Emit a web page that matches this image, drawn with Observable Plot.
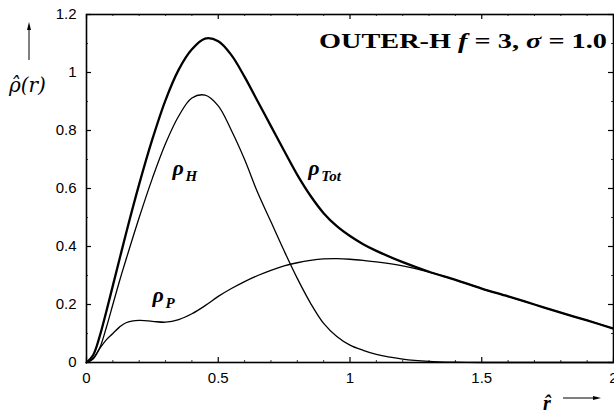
<!DOCTYPE html>
<html>
<head>
<meta charset="utf-8">
<script src="https://cdn.jsdelivr.net/npm/d3@7"></script>
<script src="https://cdn.jsdelivr.net/npm/@observablehq/plot@0.6"></script>
<style>
  body { margin: 0; background: #fff; }
  #chart svg { display: block; overflow: hidden; }
</style>
</head>
<body>
<div id="chart"></div>
<script>
// Radial density profiles, OUTER-H model (f = 3, sigma = 1.0)
const r      = [0, 0.025, 0.05, 0.075, 0.1, 0.125, 0.15, 0.2, 0.25, 0.3, 0.35, 0.4, 0.45, 0.5, 0.55, 0.6, 0.65, 0.7, 0.75, 0.8, 0.85, 0.9, 0.95, 1.0, 1.05, 1.1, 1.2, 1.3, 1.4, 1.5, 1.6, 1.7, 1.8, 1.9, 2.0];
const rhoTot = [0, 0.025, 0.09, 0.175, 0.265, 0.355, 0.445, 0.615, 0.77, 0.905, 1.01, 1.08, 1.117, 1.108, 1.06, 0.985, 0.90, 0.815, 0.73, 0.647, 0.575, 0.515, 0.47, 0.436, 0.408, 0.385, 0.346, 0.313, 0.285, 0.255, 0.228, 0.20, 0.172, 0.145, 0.117];
const rhoH   = [0, 0.012, 0.05, 0.12, 0.20, 0.28, 0.355, 0.50, 0.635, 0.755, 0.85, 0.912, 0.922, 0.885, 0.80, 0.70, 0.585, 0.485, 0.385, 0.29, 0.205, 0.135, 0.09, 0.06, 0.042, 0.028, 0.012, 0.004, 0.001, 0, 0, 0, 0, 0, 0];
const rhoP   = [0, 0.015, 0.048, 0.078, 0.10, 0.122, 0.137, 0.145, 0.142, 0.139, 0.148, 0.168, 0.196, 0.228, 0.255, 0.279, 0.30, 0.318, 0.333, 0.344, 0.352, 0.357, 0.358, 0.356, 0.352, 0.347, 0.333, 0.312, 0.285, 0.255, 0.228, 0.20, 0.172, 0.145, 0.117];

const xTicks = [0, 0.5, 1, 1.5, 2];
const xTickLabels = ["0", "0.5", "1", "1.5", "2"];
const yTicks = [0, 0.2, 0.4, 0.6, 0.8, 1.0, 1.2];
const yTickLabels = ["0", "0.2", "0.4", "0.6", "0.8", "1", "1.2"];
const xMinor = [0.1, 0.2, 0.3, 0.4, 0.6, 0.7, 0.8, 0.9, 1.1, 1.2, 1.3, 1.4, 1.6, 1.7, 1.8, 1.9];
const yMinor = [0.1, 0.3, 0.5, 0.7, 0.9, 1.1];

// Curve labels: subscript and anchor position (r, rho) of the ρ symbol
const labelSub = ["H", "Tot", "P"];
const labelR   = [0.326, 0.842, 0.25];
const labelRho = [0.645, 0.645, 0.207];

const rows = r.map((v, i) => ({r: v, tot: rhoTot[i], h: rhoH[i], p: rhoP[i]}));
const labels = labelSub.map((s, i) => ({sub: s, r: labelR[i], rho: labelRho[i]}));

const W = 614, H = 414, mL = 86, mR = 1, mT = 14, mB = 52;
const innerW = W - mL - mR, innerH = H - mT - mB;
const tick = 5, minor = 2;
const serif = "'Liberation Serif', 'DejaVu Serif', serif";
const sans = "'Liberation Sans', Arial, Helvetica, sans-serif";

const chart = Plot.plot({
  width: W, height: H,
  marginLeft: mL, marginRight: mR, marginTop: mT, marginBottom: mB,
  style: {fontFamily: sans, fontSize: "15px", color: "#000", background: "#fff"},
  x: {domain: [0, 2]},
  y: {domain: [0, 1.2]},
  marks: [
    Plot.frame({stroke: "#000", strokeWidth: 1.6}),
    // inward major ticks on all four sides
    Plot.tickX(xTicks, {x: d => d, insetTop: innerH - tick, stroke: "#000", strokeWidth: 1.2}),
    Plot.tickX(xTicks, {x: d => d, insetBottom: innerH - tick, stroke: "#000", strokeWidth: 1.2}),
    Plot.tickY(yTicks, {y: d => d, insetRight: innerW - tick, stroke: "#000", strokeWidth: 1.2}),
    Plot.tickY(yTicks, {y: d => d, insetLeft: innerW - tick, stroke: "#000", strokeWidth: 1.2}),
    // small minor ticks
    Plot.tickX(xMinor, {x: d => d, insetTop: innerH - minor, stroke: "#000", strokeWidth: 0.8}),
    Plot.tickX(xMinor, {x: d => d, insetBottom: innerH - minor, stroke: "#000", strokeWidth: 0.8}),
    Plot.tickY(yMinor, {y: d => d, insetRight: innerW - minor, stroke: "#000", strokeWidth: 0.8}),
    Plot.tickY(yMinor, {y: d => d, insetLeft: innerW - minor, stroke: "#000", strokeWidth: 0.8}),
    Plot.axisX(xTicks, {tickSize: 0, tickPadding: 10, tickFormat: d => xTickLabels[xTicks.indexOf(d)], label: null, fill: "#000"}),
    Plot.axisY(yTicks, {tickSize: 0, tickPadding: 10, tickFormat: d => yTickLabels[yTicks.indexOf(d)], label: null, fill: "#000"}),
    // density curves
    Plot.line(rows, {x: "r", y: "p", curve: "catmull-rom", stroke: "#000", strokeWidth: 1.3}),
    Plot.line(rows, {x: "r", y: "h", curve: "catmull-rom", stroke: "#000", strokeWidth: 1.3}),
    Plot.line(rows, {x: "r", y: "tot", curve: "catmull-rom", stroke: "#000", strokeWidth: 2.3}),
    // curve labels
    Plot.text(labels, {x: "r", y: "rho", text: () => "ρ", textAnchor: "start", lineAnchor: "bottom",
      fontFamily: serif, fontStyle: "italic", fontWeight: "bold", fontSize: 22, fill: "#000"}),
    Plot.text(labels, {x: "r", y: "rho", text: "sub", textAnchor: "start", lineAnchor: "bottom", dx: 13, dy: 6,
      fontFamily: serif, fontStyle: "italic", fontWeight: "bold", fontSize: 15, fill: "#000"})
  ]
});

const svg = d3.select(chart);

// model title inside the frame, top right
const title = svg.append("text")
  .attr("x", 607).attr("y", 48)
  .attr("text-anchor", "end")
  .attr("textLength", 288).attr("lengthAdjust", "spacingAndGlyphs")
  .style("font-family", serif).style("font-weight", "bold").style("font-size", "20px")
  .attr("fill", "#000");
title.append("tspan").text("OUTER-H ");
title.append("tspan").style("font-style", "italic").text("f");
title.append("tspan").text(" = 3, ");
title.append("tspan").style("font-style", "italic").text("σ");
title.append("tspan").text(" = 1.0");

// y-axis label ρ̂(r) with upward arrow
svg.append("text")
  .attr("x", 9).attr("y", 92)
  .attr("text-anchor", "start")
  .style("font-family", "'DejaVu Serif', serif").style("font-style", "italic").style("font-size", "20px")
  .attr("fill", "#000")
  .text("ρ\u0302(r)");
svg.append("line").attr("x1", 29).attr("x2", 29).attr("y1", 60).attr("y2", 26)
  .attr("stroke", "#000").attr("stroke-width", 1);
svg.append("path").attr("d", "M29,22 L27,30 L31,30 Z").attr("fill", "#000");

// x-axis label r̂ with rightward arrow
svg.append("text")
  .attr("x", 547).attr("y", 410)
  .attr("text-anchor", "middle")
  .style("font-family", serif).style("font-style", "italic").style("font-weight", "bold").style("font-size", "20px")
  .attr("fill", "#000")
  .text("r\u0302");
svg.append("line").attr("x1", 563).attr("x2", 596).attr("y1", 398).attr("y2", 398)
  .attr("stroke", "#000").attr("stroke-width", 1);
svg.append("path").attr("d", "M601,398 L593,396 L593,400 Z").attr("fill", "#000");

document.getElementById("chart").appendChild(chart);
</script>
</body>
</html>
